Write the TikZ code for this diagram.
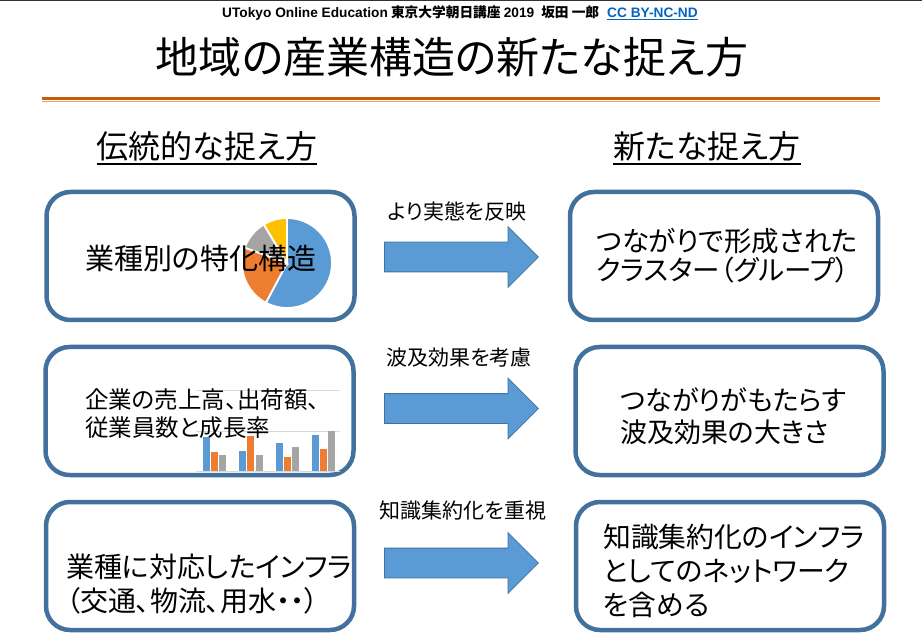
\documentclass[tikz,border=0pt]{standalone}
\usepackage{fontspec}
\setmainfont{Noto Sans CJK JP}[RawFeature=+palt]
\newfontfamily\latinfont{Liberation Sans}
\usepackage{xcolor}
\usetikzlibrary{shapes.arrows,positioning}
\definecolor{BoxBlue}{HTML}{41719C}
\definecolor{ArrowBlue}{HTML}{5B9BD5}
\definecolor{PieBlue}{HTML}{5B9BD5}
\definecolor{PieOrange}{HTML}{ED7D31}
\definecolor{PieGray}{HTML}{A5A5A5}
\definecolor{PieGold}{HTML}{FFC000}
\definecolor{RuleDark}{HTML}{C55A11}
\definecolor{RuleLight}{HTML}{F4A05A}
\definecolor{GridGray}{HTML}{D9D9D9}
\definecolor{LinkBlue}{HTML}{0563C1}

\begin{document}
\begin{tikzpicture}[x=1pt, y=-1pt,
      every node/.append style={inner sep=0pt},
      panel/.style={draw=BoxBlue, line width=4.5pt, rounded corners=24pt,
        minimum width=308pt, minimum height=128pt},
      flow arrow/.style={single arrow, draw=BoxBlue, fill=ArrowBlue, line width=0.8pt,
        inner xsep=0pt, inner ysep=14.5pt, anchor=tail,
        minimum height=154pt, single arrow head extend=15.5pt},
      note/.style={font=\fontsize{21}{23}\selectfont},
      body/.style={anchor=west, align=left},
      heading/.style={font=\fontsize{32}{34}\selectfont}]
      \useasboundingbox (0,0) rectangle (922,639);
      % header
      \draw[black!80, line width=1.5pt] (0,0.75) -- (922,0.75);
      \node (credit) at (460,13) {\fontsize{13.7}{15}\selectfont\bfseries
        {\latinfont UTokyo Online Education} 東京大学朝日講座 {\latinfont 2019}\hspace{7pt}坂田 一郎\hspace{8pt}%
        \textcolor{LinkBlue}{\underline{\latinfont CC BY-NC-ND}}};
      \node (title) at (452,57) {\fontsize{43}{46}\selectfont 地域の産業構造の新たな捉え方};
      \draw[RuleDark, line width=3pt] (42,98.5) -- (880,98.5);
      \draw[RuleLight, line width=1.2pt] (42,101.6) -- (880,101.6);
      % column headings
      \node (oldway) [heading] at (207,146) {伝統的な捉え方};
      \node (newway) [heading] at (707,146) {新たな捉え方};
      \draw[line width=1.5pt] ([yshift=-6pt]oldway.base west) -- ([yshift=-6pt]oldway.base east);
      \draw[line width=1.5pt] ([yshift=-6pt]newway.base west) -- ([yshift=-6pt]newway.base east);
      % panels
      \node (oldA) [panel] at (200.5,256) {};
      \node (oldB) [panel] at (199.5,411) {};
      \node (oldC) [panel] at (200,566) {};
      \node (newA) [panel] at (724,256) {};
      \node (newB) [panel] at (729.5,411) {};
      \node (newC) [panel] at (730,566) {};
      % pie
      \begin{scope}[shift={(287,263)}, yscale=-1, draw=white, line width=1.8pt]
        \filldraw[fill=PieBlue] (0,0) -- (90:45) arc[start angle=90, end angle=-118, radius=45] -- cycle;
        \filldraw[fill=PieOrange] (0,0) -- (160:45) arc[start angle=160, end angle=242, radius=45] -- cycle;
        \filldraw[fill=PieGray] (0,0) -- (121:45) arc[start angle=121, end angle=160, radius=45] -- cycle;
        \filldraw[fill=PieGold] (0,0) -- (90:45) arc[start angle=90, end angle=121, radius=45] -- cycle;
      \end{scope}
      % bars
      \draw[GridGray, line width=0.8pt] (196,390) -- (340,390);
      \draw[GridGray, line width=0.8pt] (196,431) -- (340,431);
      \draw[GridGray, line width=0.8pt] (196,471.5) -- (340,471.5);
      \fill[PieBlue] (203,437) rectangle (209.5,471);
      \fill[PieOrange] (211,452) rectangle (217.5,471);
      \fill[PieGray] (219,455) rectangle (225.5,471);
      \fill[PieBlue] (239,451) rectangle (245.5,471);
      \fill[PieOrange] (247,436) rectangle (253.5,471);
      \fill[PieGray] (256,455) rectangle (262.5,471);
      \fill[PieBlue] (276,443) rectangle (282.5,471);
      \fill[PieOrange] (284,457) rectangle (290.5,471);
      \fill[PieGray] (292,447) rectangle (298.5,471);
      \fill[PieBlue] (312,435) rectangle (318.5,471);
      \fill[PieOrange] (320,449) rectangle (326.5,471);
      \fill[PieGray] (328,431) rectangle (334.5,471);
      % panel texts
      \node (oldAtext) [body, font=\fontsize{29}{32}\selectfont] at (85,258) {業種別の特化構造};
      \node (oldBtext) [body, font=\fontsize{23.5}{28}\selectfont] at (85,414) {企業の売上高、出荷額、\\従業員数と成長率};
      \node (oldCtext) [body, font=\fontsize{28}{34}\selectfont] at (66,584) {業種に対応したインフラ\\（交通、物流、用水・・）};
      \node (newAtext) [body, font=\fontsize{27.5}{29}\selectfont] at (596,256) {つながりで形成された\\クラスター（グループ）};
      \node (newBtext) [body, font=\fontsize{27}{32}\selectfont] at (620,416) {つながりがもたらす\\波及効果の大きさ};
      \node (newCtext) [body, font=\fontsize{27.8}{34}\selectfont] at (603,571) {知識集約化のインフラ\\としてのネットワーク\\を含める};
      % arrows
      \node (toA) [flow arrow] at (384,257) {};
      \node (toB) [flow arrow] at (384,408.5) {};
      \node (toC) [flow arrow] at (384,563) {};
      \node (whyA) [note] at (457,211) {より実態を反映};
      \node (whyB) [note] at (459,358) {波及効果を考慮};
      \node (whyC) [note] at (463,511) {知識集約化を重視};
  \end{tikzpicture}
\end{document}
